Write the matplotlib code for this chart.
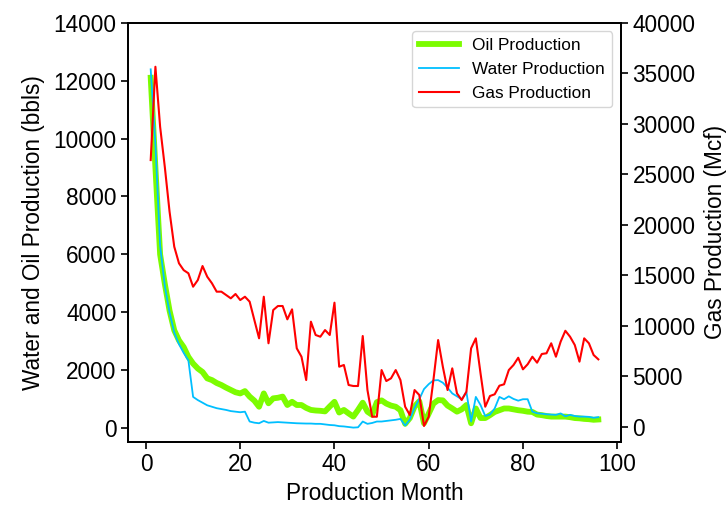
import matplotlib
matplotlib.use("Agg")
import matplotlib.pyplot as plt
import numpy as np

plt.rcParams['font.family'] = ['Liberation Sans', 'DejaVu Sans']

months = list(range(1, 97))

oil = [12100, 9000, 6000, 4980, 4060, 3380, 3030, 2800, 2460, 2230,
       2060, 1940, 1720, 1660, 1560, 1490, 1400, 1320, 1240, 1200,
       1280, 1090, 950, 740, 1200, 860, 1030, 1050, 1090, 800,
       910, 800, 800, 700, 630, 610, 600, 580, 750, 910,
       540, 630, 510, 400, 630, 880, 570, 460, 900, 960,
       850, 780, 740, 620, 150, 350, 750, 930, 170, 500,
       850, 970, 960, 780, 680, 570, 650, 800, 170, 680,
       350, 350, 450, 560, 620, 680, 680, 650, 620, 600,
       570, 560, 470, 450, 420, 400, 400, 400, 400, 380,
       350, 340, 320, 310, 290, 300]

water = [12390, 9800, 6300, 4900, 4000, 3300, 2900, 2600, 2340, 1080,
         970, 880, 790, 740, 690, 660, 630, 590, 570, 550,
         570, 230, 190, 170, 250, 190, 200, 210, 200, 190,
         180, 170, 165, 160, 160, 150, 150, 130, 110, 100,
         70, 60, 40, 20, 30, 230, 150, 180, 230, 230,
         250, 270, 290, 320, 90, 300, 700, 1000, 1350, 1520,
         1650, 1660, 1570, 1400, 1200, 1100, 1000, 1250, 230, 1080,
         800, 420, 470, 680, 1080, 1000, 1100, 1010, 950, 1000,
         1000, 570, 515, 500, 480, 470, 460, 510, 410, 460,
         420, 400, 400, 390, 360, 380]

gas = [26400, 35640, 29700, 25700, 21300, 17820, 16180, 15500, 15190, 13860,
       14520, 15910, 14850, 14200, 13370, 13370, 13040, 12710, 13140, 12540,
       12870, 12380, 10560, 8750, 12870, 8260, 11550, 11950, 11950, 10630,
       11620, 7760, 6930, 4620, 10400, 9080, 8910, 9570, 9080, 12280,
       5940, 6110, 4130, 4030, 4030, 8980, 3630, 990, 990, 5610,
       4520, 4790, 5610, 4620, 1980, 1160, 3630, 3140, 70, 990,
       4620, 8580, 5940, 3630, 5780, 3300, 2640, 3460, 7760, 8750,
       5280, 1980, 3040, 3210, 4060, 4200, 5610, 6110, 6830, 5680,
       6180, 6930, 6340, 7200, 7270, 8260, 6930, 8420, 9500, 8910,
       8090, 6440, 8750, 8260, 7100, 6670]

left_ticks = [0, 2000, 4000, 6000, 8000, 10000, 12000, 14000]
right_ticks = [0, 5000, 10000, 15000, 20000, 25000, 30000, 35000, 40000]
x_ticks = [0, 20, 40, 60, 80, 100]

fig = plt.figure(figsize=(7.27, 5.08), dpi=100)
ax = fig.add_axes([0.1765, 0.1309, 0.8538 - 0.1765, 0.9553 - 0.1309])
ax2 = ax.twinx()

fs = 16.3
l1, = ax.plot(months, oil, color='lawngreen', lw=4.2, label='Oil Production')
l2, = ax.plot(months, water, color='deepskyblue', lw=1.3, label='Water Production')
l3, = ax2.plot(months, gas, color='red', lw=1.5, label='Gas Production')

ax.set_xlim(-3.75, 100.75)
ax.set_ylim(-460, 14000)
ax2.set_ylim(-1465, 40000)
ax.set_xticks(x_ticks)
ax.set_yticks(left_ticks)
ax2.set_yticks(right_ticks)

for a in (ax, ax2):
    a.tick_params(labelsize=fs, width=1.2, length=5)
    for s in a.spines.values():
        s.set_linewidth(1.3)

ax.set_xlabel('Production Month', fontsize=fs)
ax.set_ylabel('Water and Oil Production (bbls)', fontsize=fs, labelpad=6)
ax2.set_ylabel('Gas Production (Mcf)', fontsize=fs, labelpad=6)

ax2.legend([l1, l2, l3], [l1.get_label(), l2.get_label(), l3.get_label()],
           loc='upper right', fontsize=12.4, handlelength=2.3)

fig.savefig('out.png', dpi=100)
